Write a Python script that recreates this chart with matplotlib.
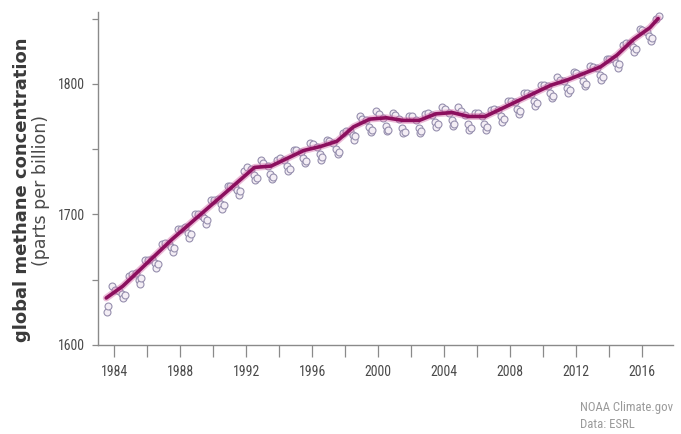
import numpy as np
import matplotlib
matplotlib.use("Agg")
from matplotlib import pyplot as plt
from matplotlib import font_manager
from matplotlib.ticker import MultipleLocator

# smoothed trend of global methane (ppb), one value per mid-year
trend_years = [1983.5, 1984.5, 1985.5, 1986.5, 1987.5, 1988.5, 1989.5, 1990.5,
               1991.5, 1992.5, 1993.5, 1994.5, 1995.5, 1996.5, 1997.5, 1998.5,
               1999.5, 2000.5, 2001.5, 2002.5, 2003.5, 2004.5, 2005.5, 2006.5,
               2007.5, 2008.5, 2009.5, 2010.5, 2011.5, 2012.5, 2013.5, 2014.5,
               2015.5, 2016.5, 2017.0]
trend_ppb = [1636, 1645, 1657, 1669, 1681, 1692, 1703, 1714,
             1725, 1736, 1737, 1743, 1749, 1752, 1756, 1767,
             1773, 1774, 1772, 1772, 1777, 1778, 1775, 1775,
             1781, 1787, 1793, 1799, 1803, 1808, 1813, 1822,
             1834, 1843, 1850]

# individual monthly means (Jan, Apr, Jun, Jul, Aug, Nov) for each year
obs_months = [1, 4, 6, 7, 8, 11]
obs_years = list(range(1983, 2018))
obs_ppb = [
    [None, None, None, 1625, 1630, 1645],
    [1642, 1641, 1639, 1636, 1638, 1653],
    [1654, 1655, 1650, 1647, 1651, 1665],
    [1665, 1666, 1663, 1659, 1662, 1677],
    [1678, 1677, 1675, 1671, 1674, 1689],
    [1689, 1690, 1686, 1682, 1685, 1700],
    [1700, 1699, 1697, 1693, 1696, 1711],
    [1711, 1712, 1708, 1704, 1707, 1722],
    [1722, 1721, 1719, 1715, 1718, 1733],
    [1736, 1735, 1730, 1726, 1728, 1742],
    [1739, 1737, 1731, 1727, 1729, 1742],
    [1743, 1742, 1737, 1733, 1735, 1749],
    [1749, 1748, 1743, 1739, 1741, 1755],
    [1754, 1752, 1746, 1742, 1744, 1757],
    [1756, 1755, 1750, 1746, 1748, 1762],
    [1764, 1764, 1761, 1757, 1760, 1775],
    [1773, 1772, 1767, 1763, 1765, 1779],
    [1777, 1774, 1768, 1764, 1765, 1778],
    [1776, 1773, 1766, 1762, 1763, 1775],
    [1775, 1772, 1766, 1762, 1764, 1777],
    [1778, 1776, 1771, 1767, 1769, 1782],
    [1781, 1778, 1772, 1768, 1769, 1782],
    [1779, 1776, 1769, 1765, 1766, 1778],
    [1778, 1775, 1769, 1765, 1767, 1780],
    [1781, 1780, 1775, 1771, 1773, 1787],
    [1787, 1786, 1781, 1777, 1779, 1793],
    [1793, 1792, 1787, 1783, 1785, 1799],
    [1799, 1798, 1793, 1789, 1791, 1805],
    [1803, 1802, 1797, 1793, 1795, 1809],
    [1808, 1807, 1802, 1798, 1800, 1814],
    [1813, 1812, 1807, 1803, 1805, 1819],
    [1819, 1819, 1816, 1812, 1815, 1830],
    [1831, 1831, 1828, 1824, 1827, 1842],
    [1841, 1840, 1837, 1833, 1835, 1850],
    [1852, None, None, None, None, None],
]

# pick a narrow face for the numbers if one is installed
fonts = font_manager.fontManager.ttflist
names = {f.name for f in fonts}
narrow = {"family": "DejaVu Sans"}
for cand in ["Liberation Sans Narrow", "Roboto Condensed", "Open Sans Condensed",
             "Noto Sans Condensed", "DejaVu Sans Condensed"]:
    if cand in names:
        narrow = {"family": cand}
        break
else:
    for f in fonts:
        if "condensed" in str(f.stretch) and f.name in ("DejaVu Sans", "Noto Sans", "Roboto", "Open Sans"):
            narrow = {"family": f.name, "stretch": "condensed"}
            break

obs_t = []
obs_v = []
for yr, row in zip(obs_years, obs_ppb):
    for m, v in zip(obs_months, row):
        if v is not None:
            obs_t.append(yr + (m - 0.5) / 12.0)
            obs_v.append(v)

dpi = 100
fig = plt.figure(figsize=(681 / dpi, 434 / dpi), dpi=dpi)
renderer = fig.canvas.get_renderer()


def fit_size(text, width_px, **props):
    # font size that makes a text run width_px pixels long
    t = fig.text(0, 0, text, fontsize=10, **props)
    w = t.get_window_extent(renderer).width
    t.remove()
    return 10 * width_px / w


ax = fig.add_axes([98 / 681, 1 - 345 / 434, 575 / 681, 333 / 434])

ax.plot(obs_t, obs_v, linestyle="none", marker="o", markersize=5,
        markerfacecolor="#f4eef5", markeredgecolor="#968fae",
        markeredgewidth=0.8, zorder=2)
ax.plot(trend_years, trend_ppb, color="#d46aa8", linewidth=5, alpha=0.45,
        solid_capstyle="round", solid_joinstyle="round", zorder=3)
ax.plot(trend_years, trend_ppb, color="#8c0f5e", linewidth=2.6,
        solid_capstyle="round", solid_joinstyle="round", zorder=4)

ax.set_xlim(1983.0, 2017.9)
ax.set_ylim(1600, 1855)
ax.xaxis.set_major_locator(MultipleLocator(4))
ax.xaxis.set_minor_locator(MultipleLocator(2))
ax.yaxis.set_major_locator(MultipleLocator(100))
ax.yaxis.set_minor_locator(MultipleLocator(50))

for side in ("top", "right"):
    ax.spines[side].set_visible(False)
for side in ("left", "bottom"):
    ax.spines[side].set_color("#8a8a8a")
    ax.spines[side].set_linewidth(1.0)

ax.tick_params(axis="x", which="both", direction="out", color="#8a8a8a",
               width=0.9, length=8.5, pad=6)
ax.tick_params(axis="y", which="both", direction="out", color="#8a8a8a",
               width=0.9, length=4.5, pad=5)

tick_size = fit_size("1984", 27, **narrow)
for lab in ax.get_xticklabels() + ax.get_yticklabels():
    lab.set_fontfamily(narrow["family"])
    if "stretch" in narrow:
        lab.set_fontstretch(narrow["stretch"])
    lab.set_fontsize(tick_size)
    lab.set_color("#4a4a4a")

fig.text(22 / 681, 1 - 190 / 434, "global methane concentration",
         rotation=90, ha="center", va="center", fontsize=13,
         fontweight="bold", family="DejaVu Sans", color="#3a3a3a")
fig.text(41 / 681, 1 - 190 / 434, "(parts per billion)",
         rotation=90, ha="center", va="center", fontsize=12.5,
         family="DejaVu Sans", color="#4a4a4a")

foot_size = fit_size("NOAA Climate.gov", 93, **narrow)
for y_px, txt in [(408, "NOAA Climate.gov"), (425, "Data: ESRL")]:
    fig.text(580 / 681, 1 - y_px / 434, txt, ha="left", va="center",
             fontsize=foot_size, color="#9a9a9a", **narrow)

fig.savefig("out.png", dpi=dpi)
plt.close(fig)
